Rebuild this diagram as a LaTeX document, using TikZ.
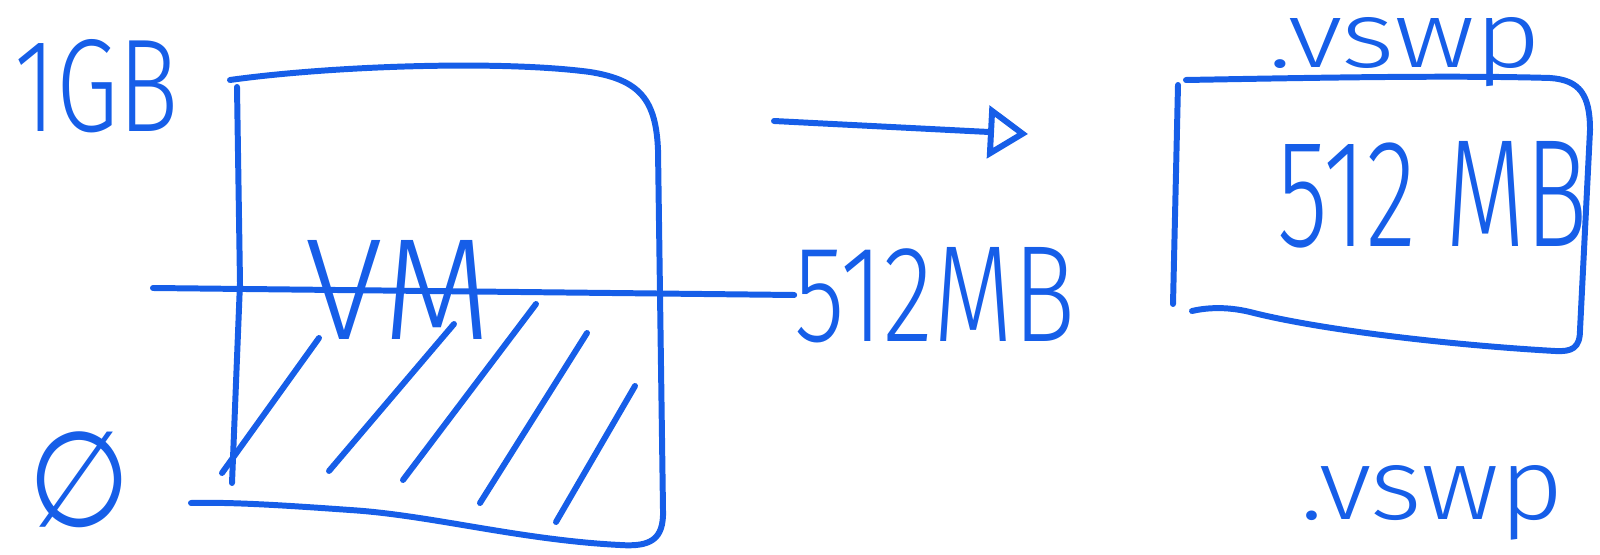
\documentclass[tikz,border=0pt]{standalone}
\usepackage{fontspec}
\setmainfont{Fira Sans}[UprightFont=* Light]
\newfontfamily\symfont{DejaVu Sans}
\usepackage{tikz}
\usetikzlibrary{arrows.meta,positioning}
\definecolor{inkblue}{RGB}{22,94,232}
\newcommand{\hand}[3]{\resizebox{#1}{#2}{#3}}

\begin{document}
\begin{tikzpicture}[
    x=0.01cm, y=-0.01cm,
    ink/.style={draw=inkblue, line width=1.7pt, line cap=round, line join=round},
    lbl/.style={text=inkblue, inner sep=0pt},
    arr/.style={ink, -{Triangle[open, length=4mm, width=5.2mm]}}
]
\useasboundingbox (0,0) rectangle (1600,555);
% labels
\node[lbl] (gb) at (97,86) {\hand{1.64cm}{0.92cm}{1GB}};
\node[lbl] (vm) at (399,290) {\hand{1.86cm}{0.99cm}{VM}};
\node[lbl] (half) at (935,295) {\hand{2.8cm}{0.94cm}{512MB}};
\node[lbl] (zero) at (80,480) {\resizebox*{1.02cm}{0.96cm}{\symfont ∅}};
\node[lbl] (swpsize) at (1433,195) {\hand{3.1cm}{1.05cm}{512 MB}};
\node[lbl, anchor=base west] (swptop) at (1268,68) {\hand{2.73cm}{0.5cm}{.vswp}};
\node[lbl, anchor=base west] (swpbot) at (1300,519) {\hand{2.63cm}{0.54cm}{.vswp}};
% VM box
\draw[ink] (230,80) .. controls (330,66) and (500,60) .. (590,72) .. controls (640,80) and (656,100) .. (658,150) -- (663,510) .. controls (664,540) and (650,547) .. (620,545) .. controls (520,540) and (430,515) .. (350,510) .. controls (280,505) and (230,502) .. (191,503);
\draw[ink] (237,87) -- (240,283) -- (232,483);
% used part
\draw[ink] (319,338) -- (222,473);
\draw[ink] (454,324) -- (329,471);
\draw[ink] (536,304) -- (403,480);
\draw[ink] (587,333) -- (480,503);
\draw[ink] (635,386) -- (556,522);
% level line
\coordinate (lvlfrom) at (153,288);
\draw[ink] (lvlfrom) -- (half.west);
% arrow
\coordinate (arrfrom) at (774,121);
\coordinate (arrto) at (1028,134);
\draw[arr] (arrfrom) -- (arrto);
% swap box
\draw[ink] (1186,80) .. controls (1300,78) and (1450,75) .. (1550,78) .. controls (1580,80) and (1590,95) .. (1590,130) -- (1580,330) .. controls (1580,348) and (1572,352) .. (1555,351) .. controls (1450,345) and (1320,330) .. (1250,312) .. controls (1225,306) and (1205,308) .. (1192,311);
\draw[ink] (1178,85) -- (1173,304);
\end{tikzpicture}
\end{document}
